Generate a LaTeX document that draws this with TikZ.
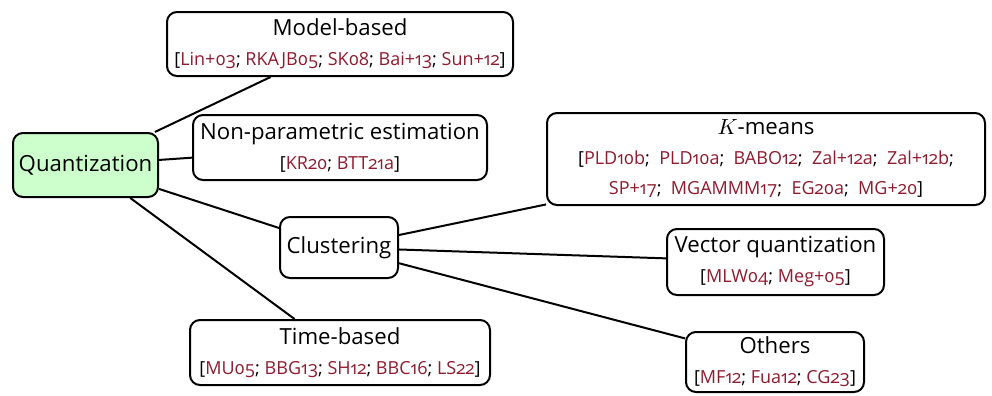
\documentclass[tikz,border=0pt]{standalone}
\usepackage{fontspec}
\setmainfont[Numbers=OldStyle]{Open Sans}
\usepackage{tikz}
\usetikzlibrary{positioning}

\definecolor{citred}{HTML}{8E1B2E}
\definecolor{rootgreen}{HTML}{CCFFCC}
\newcommand{\cit}[1]{\textcolor{citred}{#1}}
\newcommand{\reffont}{\fontsize{9}{14}\selectfont}

\begin{document}
\begin{tikzpicture}[x=0.5pt,y=-0.5pt,line width=1pt,
    topic/.style={draw=black,rounded corners=5pt,align=center,inner sep=2pt,
      font=\fontsize{11.1}{15}\selectfont},
    link/.style={draw=black,line width=1pt}]
  \useasboundingbox (0,0) rectangle (992,396);
  \node[topic,fill=rootgreen,minimum width=72.5pt,minimum height=32pt] (quant) at (85.5,165) {Quantization};
  \node[topic,minimum width=173pt,minimum height=32pt] (model) at (340,44)
    {Model-based\\{\reffont[\cit{Lin+03}; \cit{RKAJB05}; \cit{SK08}; \cit{Bai+13}; \cit{Sun+12}]}};
  \node[topic,minimum width=147pt,minimum height=32.5pt] (nonpar) at (340,147.5)
    {Non-parametric estimation\\{\reffont[\cit{KR20}; \cit{BTT21a}]}};
  \node[topic,minimum width=59pt,minimum height=30.5pt] (clust) at (339,247.5) {Clustering};
  \node[topic,minimum width=150pt,minimum height=32.5pt] (timeb) at (340,352.5)
    {Time-based\\{\reffont[\cit{MU05}; \cit{BBG13}; \cit{SH12}; \cit{BBC16}; \cit{LS22}]}};
  %
  \node[topic,minimum width=219pt,minimum height=46pt] (kmeans) at (766,159)
    {$K$-means\\{\reffont[\cit{PLD10b};\ \ \cit{PLD10a};\ \ \cit{BABO12};\ \ \cit{Zal+12a};\ \ \cit{Zal+12b};}\\
     {\reffont\cit{SP+17};\ \ \cit{MGAMMM17};\ \ \cit{EG20a};\ \ \cit{MG+20}]}};
  \node[topic,minimum width=108.5pt,minimum height=33pt] (vq) at (775.5,262)
    {Vector quantization\\{\reffont[\cit{MLW04}; \cit{Meg+05}]}};
  \node[topic,minimum width=89pt,minimum height=30pt] (others) at (775,362)
    {Others\\{\reffont[\cit{MF12}; \cit{Fua12}; \cit{CG23}]}};
  %
  \draw[link] (quant) -- (model);
  \draw[link] (quant) -- (nonpar);
  \draw[link] (quant) -- (clust);
  \draw[link] (quant) -- (timeb);
  \draw[link] (clust) -- (kmeans);
  \draw[link] (clust) -- (vq);
  \draw[link] (clust) -- (others);
\end{tikzpicture}
\end{document}
